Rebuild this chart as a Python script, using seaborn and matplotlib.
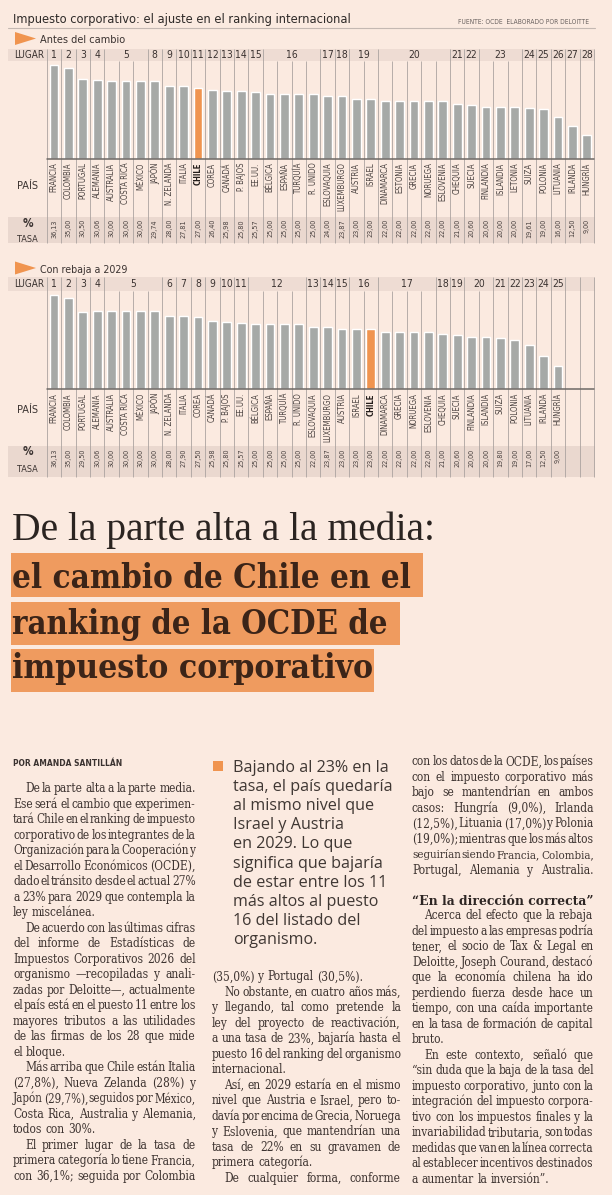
import numpy as np
import pandas as pd
import matplotlib
matplotlib.use("Agg")
import matplotlib.pyplot as plt
import matplotlib.transforms as mtransforms
from matplotlib.patches import Rectangle, Polygon
import seaborn as sns

# ---------------------------------------------------------------- data
countries_before = ["FRANCIA", "COLOMBIA", "PORTUGAL", "ALEMANIA", "AUSTRALIA", "COSTA RICA",
                    "MÉXICO", "JAPÓN", "N. ZELANDA", "ITALIA", "CHILE", "COREA", "CANADÁ",
                    "P. BAJOS", "EE.UU.", "BÉLGICA", "ESPAÑA", "TURQUÍA", "R. UNIDO",
                    "ESLOVAQUIA", "LUXEMBURGO", "AUSTRIA", "ISRAEL", "DINAMARCA", "ESTONIA",
                    "GRECIA", "NORUEGA", "ESLOVENIA", "CHEQUIA", "SUECIA", "FINLANDIA",
                    "ISLANDIA", "LETONIA", "SUIZA", "POLONIA", "LITUANIA", "IRLANDA", "HUNGRÍA"]
rates_before = [36.13, 35.00, 30.50, 30.06, 30.00, 30.00, 30.00, 29.74, 28.00, 27.81, 27.00,
                26.40, 25.98, 25.80, 25.57, 25.00, 25.00, 25.00, 25.00, 24.00, 23.87, 23.00,
                23.00, 22.00, 22.00, 22.00, 22.00, 22.00, 21.00, 20.60, 20.00, 20.00, 20.00,
                19.61, 19.00, 16.00, 12.50, 9.00]
rank_before = [1, 2, 3, 4, 5, 5, 5, 8, 9, 10, 11, 12, 13, 14, 15, 16, 16, 16, 16, 17, 18, 19,
               19, 20, 20, 20, 20, 20, 21, 22, 23, 23, 23, 24, 25, 26, 27, 28]

countries_after = ["FRANCIA", "COLOMBIA", "PORTUGAL", "ALEMANIA", "AUSTRALIA", "COSTA RICA",
                   "MÉXICO", "JAPÓN", "N. ZELANDA", "ITALIA", "COREA", "CANADÁ", "P. BAJOS",
                   "EE.UU.", "BÉLGICA", "ESPAÑA", "TURQUÍA", "R. UNIDO", "ESLOVAQUIA",
                   "LUXEMBURGO", "AUSTRIA", "ISRAEL", "CHILE", "DINAMARCA", "GRECIA", "NORUEGA",
                   "ESLOVENIA", "CHEQUIA", "SUECIA", "FINLANDIA", "ISLANDIA", "SUIZA", "POLONIA",
                   "LITUANIA", "IRLANDA", "HUNGRÍA"]
rates_after = [36.13, 35.00, 29.50, 30.06, 30.00, 30.00, 30.00, 30.00, 28.00, 27.90, 27.50,
               25.98, 25.80, 25.57, 25.00, 25.00, 25.00, 25.00, 24.00, 23.87, 23.00, 23.00,
               23.00, 22.00, 22.00, 22.00, 22.00, 21.00, 20.60, 20.00, 20.00, 19.80, 19.00,
               17.00, 12.50, 9.00]
rank_after = [1, 2, 3, 4, 5, 5, 5, 5, 6, 7, 8, 9, 10, 11, 12, 12, 12, 12, 13, 14, 15, 16, 16,
              17, 17, 17, 17, 18, 19, 20, 20, 21, 22, 23, 24, 25]
# printed rate that differs from the drawn bar in the source graphic
tasa_text_override_after = {"ESLOVAQUIA": "22,00"}

n_slots = 38
highlight = "CHILE"

chart_title = "Impuesto corporativo: el ajuste en el ranking internacional"
source_note = "FUENTE: OCDE  ELABORADO POR DELOITTE"
panel_titles = ["Antes del cambio", "Con rebaja a 2029"]

headline_light = "De la parte alta a la media:"
headline_bold = ["el cambio de Chile en el", "ranking de la OCDE de", "impuesto corporativo"]
byline = "POR AMANDA SANTILLÁN"
pull_quote = ["Bajando al 23% en la", "tasa, el país quedaría", "al mismo nivel que",
              "Israel y Austria", "en 2029. Lo que", "significa que bajaría",
              "de estar entre los 11", "más altos al puesto", "16 del listado del",
              "organismo."]
subhead = "“En la dirección correcta”"

# (indent first line, justify last line, lines)
col1 = [
    (True, False, ["De la parte alta a la parte media.",
                   "Ese será el cambio que experimen-",
                   "tará Chile en el ranking de impuesto",
                   "corporativo de los integrantes de la",
                   "Organización para la Cooperación y",
                   "el Desarrollo Económicos (OCDE),",
                   "dado el tránsito desde el actual 27%",
                   "a 23% para 2029 que contempla la",
                   "ley miscelánea."]),
    (True, False, ["De acuerdo con las últimas cifras",
                   "del informe de Estadísticas de",
                   "Impuestos Corporativos 2026 del",
                   "organismo —recopiladas y anali-",
                   "zadas por Deloitte—, actualmente",
                   "el país está en el puesto 11 entre los",
                   "mayores tributos a las utilidades",
                   "de las firmas de los 28 que mide",
                   "el bloque."]),
    (True, False, ["Más arriba que Chile están Italia",
                   "(27,8%), Nueva Zelanda (28%) y",
                   "Japón (29,7%), seguidos por México,",
                   "Costa Rica, Australia y Alemania,",
                   "todos con 30%."]),
    (True, True, ["El primer lugar de la tasa de",
                  "primera categoría lo tiene Francia,",
                  "con 36,1%; seguida por Colombia"]),
]
col2 = [
    (False, False, ["(35,0%) y Portugal (30,5%)."]),
    (True, False, ["No obstante, en cuatro años más,",
                   "y llegando, tal como pretende la",
                   "ley del proyecto de reactivación,",
                   "a una tasa de 23%, bajaría hasta el",
                   "puesto 16 del ranking del organismo",
                   "internacional."]),
    (True, False, ["Así, en 2029 estaría en el mismo",
                   "nivel que Austria e Israel, pero to-",
                   "davía por encima de Grecia, Noruega",
                   "y Eslovenia, que mantendrían una",
                   "tasa de 22% en su gravamen de",
                   "primera categoría."]),
    (True, True, ["De cualquier forma, conforme"]),
]
col3a = [
    (False, True, ["con los datos de la OCDE, los países",
                   "con el impuesto corporativo más",
                   "bajo se mantendrían en ambos",
                   "casos: Hungría (9,0%), Irlanda",
                   "(12,5%), Lituania (17,0%) y Polonia",
                   "(19,0%); mientras que los más altos",
                   "seguirían siendo Francia, Colombia,",
                   "Portugal, Alemania y Australia."]),
]
col3b = [
    (True, False, ["Acerca del efecto que la rebaja",
                   "del impuesto a las empresas podría",
                   "tener, el socio de Tax & Legal en",
                   "Deloitte, Joseph Courand, destacó",
                   "que la economía chilena ha ido",
                   "perdiendo fuerza desde hace un",
                   "tiempo, con una caída importante",
                   "en la tasa de formación de capital",
                   "bruto."]),
    (True, False, ["En este contexto, señaló que",
                   "“sin duda que la baja de la tasa del",
                   "impuesto corporativo, junto con la",
                   "integración del impuesto corpora-",
                   "tivo con los impuestos finales y la",
                   "invariabilidad tributaria, son todas",
                   "medidas que van en la línea correcta",
                   "al establecer incentivos destinados",
                   "a aumentar la inversión”."]),
]

# ---------------------------------------------------------------- style
BG = "#FBEAE0"
BAND = "#EEDCD3"
TBAND = "#EAD8CF"
GRAY = "#A6A9A7"
ORANGE = "#F0944F"
HL_BOX = "#EF9B5F"
SEP = "#ABA3A0"
TXT = "#3A3230"
BODY = "#3E3431"

sns.set_theme(style="white", rc={"figure.facecolor": BG, "axes.facecolor": BG,
                                 "savefig.facecolor": BG})
plt.rcParams["font.family"] = ["DejaVu Sans"]
CH = dict(family="DejaVu Sans", fontstretch="condensed")

W, H = 612, 1195
fig = plt.figure(figsize=(W / 100, H / 100), dpi=100, facecolor=BG)
ov = fig.add_axes([0, 0, 1, 1])
ov.set_xlim(0, W)
ov.set_ylim(H, 0)
ov.axis("off")
ov.set_zorder(0)
renderer = fig.canvas.get_renderer()


def text_w(s, **kw):
    t = ov.text(0, 0, s, **kw)
    w = t.get_window_extent(renderer).width
    t.remove()
    return w


def fit_text(x, y, s, width, **kw):
    w = text_w(s, fontsize=10, **kw)
    return ov.text(x, y, s, fontsize=10 * width / w, **kw)


def rank_groups(ranks):
    out, s = [], 0
    for i in range(1, len(ranks) + 1):
        if i == len(ranks) or ranks[i] != ranks[s]:
            out.append((s, i - 1, ranks[s]))
            s = i
    return out


X0, X1 = 46.8, 594.0
PX_PER_UNIT = 2.6


def draw_chart(countries, rates, ranks, overrides, title, g):
    # band backgrounds
    ov.add_patch(Rectangle((8, g["lug0"]), 595 - 8, g["lug1"] - g["lug0"], color=BAND, lw=0))
    ov.add_patch(Rectangle((8, g["tas0"]), 595 - 8, g["tas1"] - g["tas0"], color=TBAND, lw=0))
    # panel title with triangle
    ty = g["tri"]
    ov.add_patch(Polygon([(15, ty - 6.5), (36, ty), (15, ty + 6.5)], closed=True,
                         color=ORANGE, lw=0))
    fit_text(40, g["ptitle"], title, g["ptw"], color=TXT, va="baseline", ha="left", **CH)

    ax = fig.add_axes([X0 / W, 1 - g["base"] / H, (X1 - X0) / W, (g["base"] - g["lug1"]) / H])
    ax.set_zorder(1)
    ax.patch.set_alpha(0)
    order = countries + [f"_vacío{i}" for i in range(n_slots - len(countries))]
    df = pd.DataFrame({"pais": countries, "tasa": rates})
    pal = {c: (ORANGE if c == highlight else GRAY) for c in countries}
    sns.barplot(data=df, x="pais", y="tasa", hue="pais", order=order, palette=pal,
                width=0.6, saturation=1, legend=False, ax=ax)
    ax.set_xlim(-0.5, n_slots - 0.5)
    ax.set_ylim(0, (g["base"] - g["lug1"]) / PX_PER_UNIT)
    ax.axis("off")
    ax.axhline(0, color="#6E6966", lw=1.1, clip_on=False)

    tr = mtransforms.blended_transform_factory(ax.transData, ov.transData)
    groups = rank_groups(ranks)
    boundaries = {0, n_slots} | {s for s, e, r in groups} | set(range(len(countries), n_slots + 1))
    for k in range(n_slots + 1):
        ytop = g["lug0"] if k in boundaries else g["lug1"]
        ov.plot([k - 0.5, k - 0.5], [ytop, g["tas1"]], color=SEP, lw=0.6, transform=tr,
                solid_capstyle="butt")
    for s, e, r in groups:
        ov.text((s + e) / 2, (g["lug0"] + g["lug1"]) / 2 + 0.5, str(r), transform=tr,
                ha="center", va="center", fontsize=7.4, color=TXT, **CH)
    for i, (c, v) in enumerate(zip(countries, rates)):
        hl = c == highlight
        ov.text(i, g["lab"], c, transform=tr, rotation=90, ha="center", va="top",
                fontsize=5.6, color="#231C1A" if hl else "#4A4240",
                fontweight="bold" if hl else "normal", **CH)
        lab = overrides.get(c, f"{v:.2f}".replace(".", ","))
        ov.text(i, g["tas0"] + 2.5, lab, transform=tr, rotation=90, ha="center", va="top",
                fontsize=5.2, color="#4A4240", **CH)
    # row headers
    fit_text(14, (g["lug0"] + g["lug1"]) / 2 + 3.4, "LUGAR", 30, color=TXT, va="baseline", **CH)
    fit_text(17, g["pais"] + 3.8, "PAÍS", 21, color=TXT, va="baseline", **CH)
    ov.text(27.5, g["pct"] + 3.8, "%", fontsize=8.5, color=TXT, fontweight="bold",
            ha="center", va="baseline", **CH)
    fit_text(17, g["tasa"] + 3.8, "TASA", 21, color=TXT, va="baseline", **CH)


# --------------------------------------------------------------- chart header
fit_text(13, 23, chart_title, 336, color="#2E2A28", va="baseline", **CH)
fit_text(458, 24, source_note, 131, color="#6A6260", va="baseline", **CH)
ov.plot([8, 595], [27.5, 27.5], color="#C4B8B2", lw=0.8)

geo1 = dict(tri=38.5, ptitle=43, ptw=85, lug0=48.5, lug1=61, base=158.5, lab=162.5,
            pais=185, tas0=216.5, tas1=243, pct=223, tasa=238)
geo2 = dict(tri=268, ptitle=272.5, ptw=88, lug0=277, lug1=290.5, base=389, lab=393,
            pais=409, tas0=446, tas1=477, pct=451, tasa=468)
draw_chart(countries_before, rates_before, rank_before, {}, panel_titles[0], geo1)
draw_chart(countries_after, rates_after, rank_after, tasa_text_override_after,
           panel_titles[1], geo2)

# --------------------------------------------------------------- headline
fit_text(12, 540, headline_light, 426, color="#2B2421", family="Liberation Serif",
         va="baseline")
boxes = [(11, 553, 423, 597, 588, 400), (11, 602, 400, 645, 634, 377),
         (11, 649, 374, 692, 678, 360)]
for (bx0, by0, bx1, by1, base, tw), line in zip(boxes, headline_bold):
    ov.add_patch(Rectangle((bx0, by0), bx1 - bx0, by1 - by0, color=HL_BOX, lw=0))
    fit_text(12, base, line, tw, color="#3B2418", family="DejaVu Serif",
             fontstretch="condensed", fontweight="bold", va="baseline")

# --------------------------------------------------------------- body text
BODY_KW = dict(family="DejaVu Serif", fontstretch="condensed", color=BODY)
_cache = {}


def ww(word):
    if word not in _cache:
        _cache[word] = text_w(word, fontsize=10, **BODY_KW)
    return _cache[word]


SP = text_w("n n", fontsize=10, **BODY_KW) - text_w("nn", fontsize=10, **BODY_KW)
INDENT = 12


def iter_lines(paras):
    for indent, just_last, lines in paras:
        for j, ln in enumerate(lines):
            first = j == 0
            last = j == len(lines) - 1
            yield ln, (INDENT if (indent and first) else 0), (just_last or not last)


columns = [(col1, 13, 195.5, 789), (col2, 212, 401, 977), (col3a, 412, 593.5, 762),
           (col3b, 412, 593.5, 916)]
STEP = 15.5
MIN_GAP = 0.3

ratios = []
for paras, x0, x1, y0 in columns:
    for ln, ind, just in iter_lines(paras):
        words = ln.split(" ")
        if just and len(words) > 1:
            tot = sum(ww(w) for w in words) + (len(words) - 1) * 0.9 * SP
            ratios.append((x1 - x0 - ind) / tot * 10)
BODY_SIZE = float(np.percentile(ratios, 50))

for paras, x0, x1, y0 in columns:
    for n, (ln, ind, just) in enumerate(iter_lines(paras)):
        words = ln.split(" ")
        avail = x1 - x0 - ind
        size = BODY_SIZE
        wsum = sum(ww(w) for w in words)
        k = size / 10
        if just and len(words) > 1:
            gap = (avail - wsum * k) / (len(words) - 1)
            if gap < MIN_GAP * SP * k:
                size = avail / (wsum + (len(words) - 1) * MIN_GAP * SP) * 10
                k = size / 10
                gap = (avail - wsum * k) / (len(words) - 1)
        else:
            gap = SP * k
        x = x0 + ind
        yb = y0 + n * STEP + 3.3
        for w in words:
            ov.text(x, yb, w, fontsize=size, va="baseline", ha="left", **BODY_KW)
            x += ww(w) * k + gap

fit_text(412, 904.5, subhead, 181, family="DejaVu Serif", fontweight="bold",
         color="#2E2624", va="baseline")
fit_text(13, 766, byline, 107, family="DejaVu Sans", fontstretch="condensed",
         fontweight="bold", color="#3A3230", va="baseline")

# pull quote
ov.add_patch(Rectangle((213, 761), 9.5, 10, color=ORANGE, lw=0))
pq_w = text_w(pull_quote[1], fontsize=10, family="Open Sans")
pq_size = 10 * 159 / pq_w
for i, ln in enumerate(pull_quote):
    ov.text(233, 767 + 4.6 + i * 19.2, ln, fontsize=pq_size, family="Open Sans",
            color="#3F3733", va="baseline", ha="left")

fig.savefig("out.png", dpi=100, facecolor=BG)
